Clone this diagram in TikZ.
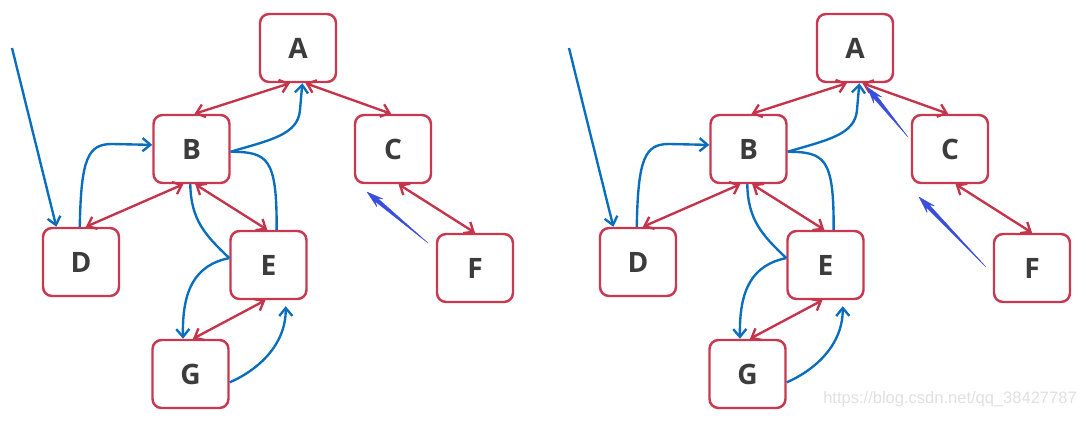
\documentclass[tikz,border=0pt]{standalone}
\usepackage{fontspec}
\setmainfont{Open Sans}
\newfontfamily\wmfont{Liberation Sans}
\usetikzlibrary{arrows.meta,calc}
\definecolor{boxred}{RGB}{200,56,80}
\definecolor{edgered}{RGB}{196,52,74}
\definecolor{lineblue}{RGB}{10,110,190}
\definecolor{pointblue}{RGB}{58,78,222}
\definecolor{lettergray}{RGB}{60,60,60}

\begin{document}
\begin{tikzpicture}[x=0.02cm,y=0.02cm,
  box/.style={draw=boxred,line width=1.4pt,rounded corners=0.18cm,fill=white,minimum width=1.52cm,minimum height=1.36cm,inner sep=0pt,text=lettergray,font=\bfseries\fontsize{16}{18}\selectfont},
  redarr/.style={{Straight Barb[length=4.5pt,width=7.5pt]}-{Straight Barb[length=4.5pt,width=7.5pt]},line width=1.35pt,draw=edgered},
  bluearr/.style={-{Straight Barb[length=4.5pt,width=7.5pt]},line width=1.35pt,draw=lineblue},
  blueline/.style={line width=1.35pt,draw=lineblue},
  pointer/.style={fill=pointblue,draw=pointblue,line width=0.2pt,line join=round}]
\useasboundingbox (0,0) rectangle (1086,420);
% the same graph twice, side by side
\foreach \side/\dx in {L/0,R/557}{
\begin{scope}[xshift=\dx*0.02cm,name prefix=\side-]
\node[box] (A) at (298,372) {A};
\node[box] (B) at (191.5,271) {B};
\node[box] (C) at (393,271) {C};
\node[box] (D) at (81,158) {D};
\node[box] (E) at (268.5,155) {E};
\node[box] (F) at (475,152) {F};
\node[box] (G) at (190.5,46) {G};
\coordinate (start) at (12,372);
% edges
\draw[redarr] (A.-103) -- (B.85);
\draw[redarr] (A.-78) -- (C.93);
\draw[redarr] (B.-103) -- (D.82);
\draw[redarr] (B.-84) -- (E.92);
\draw[redarr] (C.-81) -- (F.north);
\draw[redarr] (E.-95) -- (G.86);
% traversal
\draw[bluearr] (start) -- (D.125);
\draw[bluearr] (D.92) .. controls (81,262) and (88,276) .. (112,276) -- (B.174);
\draw[bluearr] (B.-4) .. controls (270,280) and (298,285) .. (300,310) -- (A.-83);
\draw[blueline] (E.77) .. controls (277,262) and (268,268) .. (B.-4);
\draw[blueline] (E.170) .. controls (205,185) and (191,200) .. (B.-92);
\draw[bluearr] (E.170) .. controls (195,155) and (182,130) .. (G.102);
\draw[bluearr,shorten >=0.12cm] (G.-12) .. controls (258,50) and (286,75) .. (E.-64);
\end{scope}
}
% back-tracking pointers
\coordinate (L-ptail) at (428,177);
\coordinate (L-phead) at (367,228);
\coordinate (R-ptail1) at (908,283);
\coordinate (R-phead1) at (867,333);
\coordinate (R-ptail2) at (986,153);
\coordinate (R-phead2) at (919,223);
\foreach \ptail/\phead in {L-ptail/L-phead,R-ptail1/R-phead1,R-ptail2/R-phead2}{
\coordinate (hb) at ($(\phead)!0.34cm!(\ptail)$);
\coordinate (hi) at ($(\phead)!0.25cm!(\ptail)$);
\filldraw[pointer] (\ptail) -- ($(hi)!0.04cm!90:(\ptail)$) -- ($(hb)!0.1cm!90:(\ptail)$) -- (\phead)
  -- ($(hb)!0.1cm!-90:(\ptail)$) -- ($(hi)!0.04cm!-90:(\ptail)$) -- cycle;
}
\node[font=\wmfont\fontsize{9.4}{11}\selectfont,text=black!12] (wm) at (950,21) {https://blog.csdn.net/qq\_38427787};
\end{tikzpicture}
\end{document}
